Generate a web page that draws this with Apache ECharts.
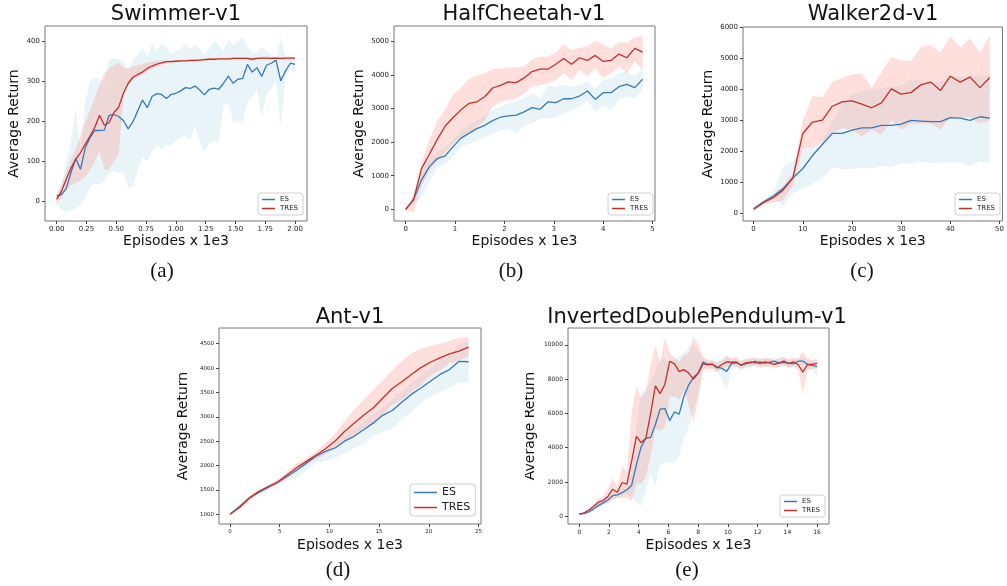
<!DOCTYPE html>
<html>
<head>
<meta charset="utf-8">
<script src="https://cdn.jsdelivr.net/npm/echarts@6/dist/echarts.min.js"></script>
<style>
  html, body { margin: 0; padding: 0; background: #fff; }
  #chart { width: 1007px; height: 586px; }
</style>
</head>
<body>
<div id="chart"></div>
<script>
// ---- data ----
const seriesNames = ['ES', 'TRES'];

// (a) Swimmer-v1
const swimmerX = [0,0.04,0.08,0.12,0.16,0.2,0.24,0.28,0.32,0.36,0.4,0.44,0.48,0.52,0.56,0.6,0.64,0.68,0.72,0.76,0.8,0.84,0.88,0.92,0.96,1,1.04,1.08,1.12,1.16,1.2,1.24,1.28,1.32,1.36,1.4,1.44,1.48,1.52,1.56,1.6,1.64,1.68,1.72,1.76,1.8,1.84,1.88,1.92,1.96,2];
const swimmerEs = [13,17,32,72,107,80,134,159,177,177,178,215,217,212,202,181,199,226,253,234,262,269,267,257,267,270,276,284,282,288,278,266,280,283,280,295,313,295,305,307,342,323,334,312,340,345,353,301,326,345,342];
const swimmerEsHi = [20,40,100,150,232,130,250,300,310,305,300,355,357,355,352,325,355,365,385,360,395,375,395,385,370,375,380,395,380,390,380,365,380,400,390,375,405,390,400,410,385,375,370,385,375,365,355,410,360,355,358];
const swimmerEsLo = [-5,-20,-28,-22,-18,-10,10,35,45,40,50,70,75,70,72,35,38,80,110,100,125,140,130,140,140,150,160,165,155,190,150,125,145,150,145,240,245,195,200,195,250,260,280,210,270,280,300,185,310,330,318];
const swimmerTres = [5,25,55,83,105,122,143,163,185,215,190,197,222,235,270,295,310,317,323,332,338,343,346,349,349,350,351,351,352,352,353,354,355,355,356,356,356,357,357,357,357,355,357,358,358,357,358,357,358,358,358];
const swimmerTresHi = [15,40,75,105,130,165,197,228,259,290,320,332,340,346,333,333,337,340,343,346,349,351,352,353,353,353,354,354,355,355,356,357,358,358,359,359,359,360,360,360,360,359,360,361,361,360,361,360,361,361,361];
const swimmerTresLo = [-5,10,28,40,48,52,62,78,100,125,80,80,100,118,262,290,303,310,317,325,332,337,341,345,346,347,348,348,349,349,350,351,352,352,353,353,353,354,354,354,354,351,354,355,355,354,355,354,355,355,355];
const swimmerXTicks = [0,0.25,0.5,0.75,1,1.25,1.5,1.75,2];
const swimmerYTicks = [0,100,200,300,400];

// (b) HalfCheetah-v1
const cheetahX = [0,0.16,0.32,0.48,0.64,0.8,0.96,1.12,1.28,1.44,1.6,1.76,1.92,2.08,2.24,2.4,2.56,2.72,2.88,3.04,3.2,3.36,3.52,3.68,3.84,4,4.16,4.32,4.48,4.64,4.8];
const cheetahEs = [0,300,870,1270,1510,1590,1865,2120,2260,2400,2500,2640,2740,2780,2800,2900,3025,2975,3195,3175,3290,3290,3370,3520,3270,3470,3470,3650,3720,3620,3870];
const cheetahEsHi = [0,350,1100,1500,1700,1850,2050,2350,2500,2650,2800,2950,3050,3150,3200,3300,3450,3300,3700,3650,3700,3650,3700,3800,3600,3850,3900,4050,4100,3950,4200];
const cheetahEsLo = [0,150,350,800,1250,1350,1550,1850,1950,2050,2150,2250,2350,2400,2250,2500,2550,2700,2700,2750,2850,2950,3050,3250,2900,3100,2950,3250,3350,3300,3550];
const cheetahTres = [0,280,1210,1640,2080,2480,2730,2960,3150,3195,3350,3610,3690,3790,3770,3910,4100,4170,4170,4315,4490,4315,4510,4430,4580,4400,4430,4620,4510,4790,4680];
const cheetahTresHi = [0,450,1390,2080,2620,2980,3420,3620,3870,3970,4050,4170,4190,4220,4220,4250,4460,4540,4540,4660,4910,4740,4810,4840,5010,4910,4780,4980,4960,5110,5160];
const cheetahTresLo = [0,-100,700,1150,1450,1700,1950,2150,2300,2450,2650,3050,3200,3250,3300,3450,3650,3700,3750,3850,4050,3850,4150,3950,4200,3900,4050,4250,4050,4400,4150];
const cheetahXTicks = [0,1,2,3,4,5];
const cheetahYTicks = [0,1000,2000,3000,4000,5000];

// (c) Walker2d-v1
const walkerX = [0,2,4,6,8,10,12,14,16,18,20,22,24,26,28,30,32,34,36,38,40,42,44,46,48];
const walkerEs = [150,365,560,800,1150,1440,1870,2230,2580,2580,2690,2760,2760,2840,2840,2880,3000,2980,2960,2960,3090,3075,3000,3120,3075];
const walkerEsHi = [200,420,700,1500,1700,2050,2100,2300,3000,3500,3850,3950,4000,4050,4080,4080,4350,4300,4200,4250,4450,4400,4450,4450,4450];
const walkerEsLo = [100,300,500,250,650,800,950,1150,1470,1430,1430,1470,1450,1520,1500,1620,1600,1680,1620,1650,1650,1650,1520,1680,1640];
const walkerTres = [130,345,505,750,1150,2580,2950,3010,3460,3600,3630,3530,3410,3570,4020,3850,3900,4150,4240,3970,4430,4240,4400,4060,4380];
const walkerTresHi = [200,400,580,900,1300,3000,3780,3750,4250,4380,4480,4520,4050,4550,5050,4950,4920,5380,5440,5200,5720,5350,5650,5180,5750];
const walkerTresLo = [50,300,350,420,900,2080,2100,2300,2600,2750,2700,2480,2700,2550,3000,2700,2900,2900,2900,2700,3100,3100,3100,2900,3000];
const walkerXTicks = [0,10,20,30,40,50];
const walkerYTicks = [0,1000,2000,3000,4000,5000,6000];

// (d) Ant-v1
const antX = [0,0.96,1.92,2.88,3.84,4.8,5.76,6.72,7.68,8.64,9.6,10.56,11.52,12.48,13.44,14.4,15.36,16.32,17.28,18.24,19.2,20.16,21.12,22.08,23.04,24];
const antEs = [1000,1160,1330,1450,1550,1660,1775,1910,2050,2190,2290,2360,2500,2600,2735,2870,3030,3130,3300,3460,3590,3730,3870,3970,4140,4130];
const antEsHi = [1010,1190,1370,1490,1590,1700,1820,1960,2100,2230,2330,2420,2600,2750,2900,3050,3200,3350,3500,3700,3850,4000,4150,4250,4500,4550];
const antEsLo = [990,1120,1260,1380,1490,1600,1680,1750,1900,2050,2100,2150,2250,2350,2450,2600,2700,2750,2950,3100,3300,3420,3500,3600,3700,3700];
const antTres = [1000,1137,1330,1465,1570,1660,1810,1960,2085,2210,2345,2500,2700,2870,3030,3180,3380,3580,3720,3870,4010,4120,4210,4290,4350,4430];
const antTresHi = [1010,1180,1380,1500,1600,1720,1870,2050,2150,2290,2450,2650,2900,3150,3350,3550,3750,3950,4150,4300,4400,4450,4500,4550,4630,4630];
const antTresLo = [990,1110,1290,1430,1530,1610,1750,1870,2020,2120,2230,2350,2500,2620,2750,2850,3050,3250,3350,3500,3650,3850,3950,4100,4150,4230];
const antXTicks = [0,5,10,15,20,25];
const antYTicks = [1000,1500,2000,2500,3000,3500,4000,4500];

// (e) InvertedDoublePendulum-v1
const pendX = [0,0.32,0.64,0.96,1.28,1.6,1.92,2.24,2.56,2.88,3.2,3.52,3.84,4.16,4.48,4.8,5.12,5.44,5.76,6.08,6.4,6.72,7.04,7.36,7.68,8,8.32,8.64,8.96,9.28,9.6,9.92,10.24,10.56,10.88,11.2,11.52,11.84,12.16,12.48,12.8,13.12,13.44,13.76,14.08,14.4,14.72,15.04,15.36,15.68,16];
const pendEs = [120,150,260,420,620,780,950,1200,1250,1380,1550,1800,3000,4050,4550,4600,5350,6250,6280,5580,6080,5960,7000,7650,8100,8350,9000,8850,8850,8700,8620,8450,8900,8950,8820,8890,9000,8930,9000,8930,8980,9040,8930,8970,8930,8890,9040,9050,8850,8800,8730];
const pendEsHi = [150,220,380,600,800,950,1100,1400,1500,1600,1800,2500,5300,7200,7400,7800,8500,9100,9200,8700,9100,9300,9500,9800,10000,9600,9200,9100,9050,9000,9200,9400,9200,9150,9050,9100,9200,9150,9200,9150,9200,9250,9150,9200,9150,9100,9250,9250,9100,9050,9000];
const pendEsLo = [90,130,200,300,450,600,800,1000,1050,1150,1300,1100,800,600,1500,2500,1700,3000,3100,3200,3100,3500,4500,5200,6200,7100,8700,8600,8600,8400,8000,7400,8600,8700,8600,8650,8800,8700,8800,8700,8750,8800,8700,8750,8700,8650,8800,8850,8600,8550,8100];
const pendTres = [120,195,370,565,820,915,1150,1580,1400,1970,1870,3200,4660,4300,4550,6000,7600,7150,7700,9030,8890,8430,8550,8350,8000,8330,8880,8850,8870,8650,8850,9000,8980,9000,8800,8950,8950,9030,8900,9000,8950,8850,8950,9050,8900,9000,8850,8400,8850,8850,8920];
const pendTresHi = [150,250,450,700,1050,1100,1600,2250,1700,2950,2600,6000,7600,6900,7300,8800,10000,8900,10400,9500,9300,9000,9400,9500,10500,10000,9300,9100,9100,8950,9100,9300,9200,9250,9050,9200,9200,9250,9150,9250,9200,9100,9200,9300,9150,9250,9150,9600,9200,9100,9200];
const pendTresLo = [90,150,300,430,600,700,750,950,1100,1050,1050,900,1900,1900,2300,3500,5100,5000,5200,7000,7000,6800,7300,6500,5500,6800,8500,8600,8600,8400,8600,8700,8750,8750,8550,8700,8700,8800,8650,8750,8700,8600,8700,8800,8650,8750,8550,7150,8500,8600,8650];
const pendXTicks = [0,2,4,6,8,10,12,14,16];
const pendYTicks = [0,2000,4000,6000,8000,10000];

// ---- styling ----
const FONT = 'DejaVu Sans';
const ES_COLOR = '#3a78b8';
const TRES_COLOR = '#c4302b';
const ES_FILL = 'rgba(173,216,230,0.28)';
const TRES_FILL = 'rgba(250,128,114,0.25)';

const panels = [
  { title: 'Swimmer-v1', cap: '(a)', titleAt: [176, 15], capAt: [162, 271],
    grid: { left: 45, top: 26, width: 262, height: 195 }, xr: [-0.098, 2.1], yr: [-49, 438],
    xTicks: swimmerXTicks, yTicks: swimmerYTicks, xFmt: v => v.toFixed(2), tick: 7, xGap: 13, yGap: 24,
    legend: { left: 258, top: 193, font: 7, w: 13, gap: 2 },
    d: [swimmerX, swimmerEs, swimmerEsLo, swimmerEsHi, swimmerTres, swimmerTresLo, swimmerTresHi] },
  { title: 'HalfCheetah-v1', cap: '(b)', titleAt: [524, 15], capAt: [511, 271],
    grid: { left: 394, top: 26, width: 261, height: 195 }, xr: [-0.237, 5.05], yr: [-348, 5455],
    xTicks: cheetahXTicks, yTicks: cheetahYTicks, xFmt: v => String(v), tick: 7, xGap: 13, yGap: 28,
    legend: { left: 608, top: 193, font: 7, w: 13, gap: 2 },
    d: [cheetahX, cheetahEs, cheetahEsLo, cheetahEsHi, cheetahTres, cheetahTresLo, cheetahTresHi] },
  { title: 'Walker2d-v1', cap: '(c)', titleAt: [873, 15], capAt: [862, 271],
    grid: { left: 743, top: 27, width: 261, height: 194 }, xr: [-2.15, 50.6], yr: [-248, 6020],
    xTicks: walkerXTicks, yTicks: walkerYTicks, xFmt: v => String(v), tick: 7, xGap: 13, yGap: 28,
    legend: { left: 955, top: 193, font: 7, w: 13, gap: 2 },
    d: [walkerX, walkerEs, walkerEsLo, walkerEsHi, walkerTres, walkerTresLo, walkerTresHi] },
  { title: 'Ant-v1', cap: '(d)', titleAt: [350, 318], capAt: [338, 570],
    grid: { left: 219, top: 328, width: 262, height: 196 }, xr: [-1.11, 25.25], yr: [800, 4823],
    xTicks: antXTicks, yTicks: antYTicks, xFmt: v => String(v), tick: 5.5, xGap: 14, yGap: 29,
    legend: { left: 410, top: 484, font: 11, w: 23, gap: 4 },
    d: [antX, antEs, antEsLo, antEsHi, antTres, antTresLo, antTresHi] },
  { title: 'InvertedDoublePendulum-v1', cap: '(e)', titleAt: [697, 318], capAt: [687, 570],
    grid: { left: 568, top: 328, width: 261, height: 196 }, xr: [-0.76, 16.8], yr: [-450, 10977],
    xTicks: pendXTicks, yTicks: pendYTicks, xFmt: v => String(v), tick: 6, xGap: 14, yGap: 31,
    legend: { left: 780, top: 495, font: 7, w: 13, gap: 2 },
    d: [pendX, pendEs, pendEsLo, pendEsHi, pendTres, pendTresLo, pendTresHi] }
];

function band(idx, xs, lo, hi, fill) {
  const rows = xs.map((x, i) => [x, lo[i], hi[i]]);
  return {
    type: 'custom', xAxisIndex: idx, yAxisIndex: idx, data: rows,
    encode: { x: 0, y: [1, 2] }, silent: true, clip: true, z: 1,
    renderItem: function (params, api) {
      if (params.dataIndex !== 0) return;
      const up = rows.map(r => api.coord([r[0], r[2]]));
      const down = rows.map(r => api.coord([r[0], r[1]])).reverse();
      return { type: 'polygon', shape: { points: up.concat(down) }, style: { fill: fill } };
    }
  };
}

function curve(idx, name, xs, ys, color) {
  return {
    type: 'line', name: name, xAxisIndex: idx, yAxisIndex: idx,
    data: xs.map((x, i) => [x, ys[i]]),
    symbol: 'none', showSymbol: false, z: 3, clip: true,
    lineStyle: { width: 1.3, color: color }, itemStyle: { color: color }
  };
}

const grids = [], xAxes = [], yAxes = [], series = [], legends = [], graphics = [];

panels.forEach((p, i) => {
  grids.push(Object.assign({ show: true, borderColor: '#777', borderWidth: 1, backgroundColor: '#fff' }, p.grid));
  const tickLabel = { fontSize: p.tick, color: '#222', fontFamily: FONT };
  xAxes.push({
    type: 'value', gridIndex: i, min: p.xr[0], max: p.xr[1],
    axisLine: { show: false, onZero: false }, splitLine: { show: false },
    axisTick: { show: true, length: 3, lineStyle: { color: '#444' }, customValues: p.xTicks },
    axisLabel: Object.assign({ margin: 5, customValues: p.xTicks, formatter: p.xFmt }, tickLabel),
    name: 'Episodes x 1e3', nameLocation: 'middle', nameGap: p.xGap,
    nameTextStyle: { fontSize: 14, color: '#111', fontFamily: FONT }
  });
  yAxes.push({
    type: 'value', gridIndex: i, min: p.yr[0], max: p.yr[1],
    axisLine: { show: false, onZero: false }, splitLine: { show: false },
    axisTick: { show: true, length: 3, lineStyle: { color: '#444' }, customValues: p.yTicks },
    axisLabel: Object.assign({ margin: 5, customValues: p.yTicks, formatter: v => String(v) }, tickLabel),
    name: 'Average Return', nameLocation: 'middle', nameGap: p.yGap,
    nameTextStyle: { fontSize: 14, color: '#111', fontFamily: FONT }
  });
  const [xs, es, esLo, esHi, tr, trLo, trHi] = p.d;
  series.push(band(i, xs, esLo, esHi, ES_FILL));
  series.push(band(i, xs, trLo, trHi, TRES_FILL));
  series.push(curve(i, seriesNames[0], xs, es, ES_COLOR));
  series.push(curve(i, seriesNames[1], xs, tr, TRES_COLOR));
  legends.push({
    orient: 'vertical', left: p.legend.left, top: p.legend.top, data: seriesNames,
    icon: 'rect', itemWidth: p.legend.w, itemHeight: 1.5, itemGap: p.legend.gap,
    padding: [3, 5, 3, 4], borderColor: '#d0d0d0', borderWidth: 1, borderRadius: 3,
    backgroundColor: 'rgba(255,255,255,0.85)', selectedMode: false,
    textStyle: { fontSize: p.legend.font, color: '#222', fontFamily: FONT }
  });
  graphics.push({
    type: 'text', x: p.titleAt[0], y: p.titleAt[1], z: 100,
    style: { text: p.title, fontSize: 21, fontFamily: FONT, fill: '#111',
      textAlign: 'center', textVerticalAlign: 'middle', align: 'center', verticalAlign: 'middle' }
  });
  graphics.push({
    type: 'text', x: p.capAt[0], y: p.capAt[1], z: 100,
    style: { text: p.cap, fontSize: 21, fontFamily: 'Liberation Serif', fill: '#111',
      textAlign: 'center', textVerticalAlign: 'middle', align: 'center', verticalAlign: 'middle' }
  });
});

// the source sub-figures were cropped; mask the clipped edges
graphics.push({ type: 'rect', z: 200, shape: { x: 0, y: 249, width: 1007, height: 9 }, style: { fill: '#fff' } });
graphics.push({ type: 'rect', z: 200, shape: { x: 150, y: 551, width: 720, height: 5 }, style: { fill: '#fff' } });
graphics.push({ type: 'rect', z: 200, shape: { x: 486, y: 330, width: 39, height: 200 }, style: { fill: '#fff' } });

const chart = echarts.init(document.getElementById('chart'), null, { renderer: 'canvas' });
chart.setOption({
  animation: false,
  backgroundColor: '#fff',
  grid: grids,
  xAxis: xAxes,
  yAxis: yAxes,
  legend: legends,
  series: series,
  graphic: graphics
});
</script>
</body>
</html>
